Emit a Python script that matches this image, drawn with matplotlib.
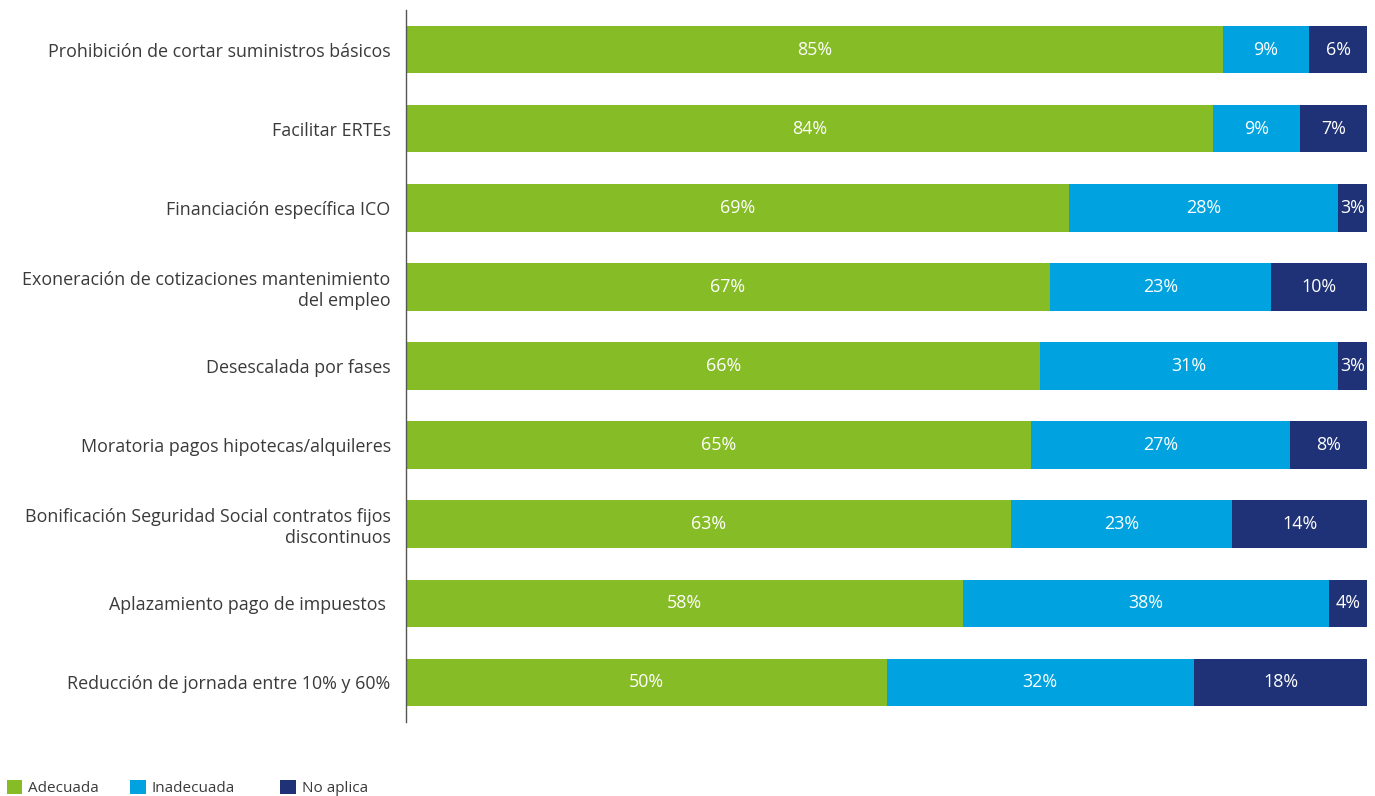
import matplotlib.pyplot as plt
from matplotlib.patches import Patch
import numpy as np

# --- DATA ---
categories = [
    "Prohibición de cortar suministros básicos",
    "Facilitar ERTEs",
    "Financiación específica ICO",
    "Exoneración de cotizaciones mantenimiento\ndel empleo",
    "Desescalada por fases",
    "Moratoria pagos hipotecas/alquileres",
    "Bonificación Seguridad Social contratos fijos\ndiscontinuos",
    "Aplazamiento pago de impuestos ",
    "Reducción de jornada entre 10% y 60%",
]
adecuada = [85, 84, 69, 67, 66, 65, 63, 58, 50]
inadecuada = [9, 9, 28, 23, 31, 27, 23, 38, 32]
no_aplica = [6, 7, 3, 10, 3, 8, 14, 4, 18]

series_names = ["Adecuada", "Inadecuada", "No aplica"]
colors = ["#86bc25", "#00a3e0", "#1f3277"]

plt.rcParams['font.family'] = ['Open Sans', 'DejaVu Sans']

fig = plt.figure(figsize=(13.75, 7.96), dpi=100)
ax = fig.add_axes([406 / 1375, 1 - 722 / 796, (1367 - 406) / 1375, (722 - 10) / 796])

y = np.arange(len(categories))
left = np.zeros(len(categories))
for name, vals, col in zip(series_names, [adecuada, inadecuada, no_aplica], colors):
    vals = np.array(vals, dtype=float)
    bars = ax.barh(y, vals, left=left, height=0.6, color=col, label=name)
    for b, v in zip(bars, vals):
        ax.text(b.get_x() + b.get_width() / 2, b.get_y() + b.get_height() / 2,
                f"{int(v)}%", ha='center', va='center', color='white',
                fontsize=12.9)
    left += vals

ax.set_xlim(0, 100)
ax.set_ylim(len(categories) - 0.5, -0.5)
ax.set_yticks(y)
ax.set_yticklabels(categories, fontsize=12.9, color='#3a3a3a', linespacing=1.2)
ax.tick_params(axis='y', length=0, pad=11)
ax.set_xticks([])
for s in ['top', 'right', 'bottom']:
    ax.spines[s].set_visible(False)
ax.spines['left'].set_color('#555555')
ax.spines['left'].set_linewidth(1.0)

# legend entries, placed one by one like the original
legend_x = [0.0015, 0.0915, 0.2005]
for name, col, lx in zip(series_names, colors, legend_x):
    leg = fig.legend(handles=[Patch(facecolor=col, label=name)], loc='lower left',
                     bbox_to_anchor=(lx, -0.006), frameon=False, fontsize=11,
                     handlelength=1.0, handleheight=1.0, handletextpad=0.4,
                     borderaxespad=0.0, borderpad=0.3)
    for t in leg.get_texts():
        t.set_color('#3a3a3a')

fig.savefig("out.png", dpi=100)
